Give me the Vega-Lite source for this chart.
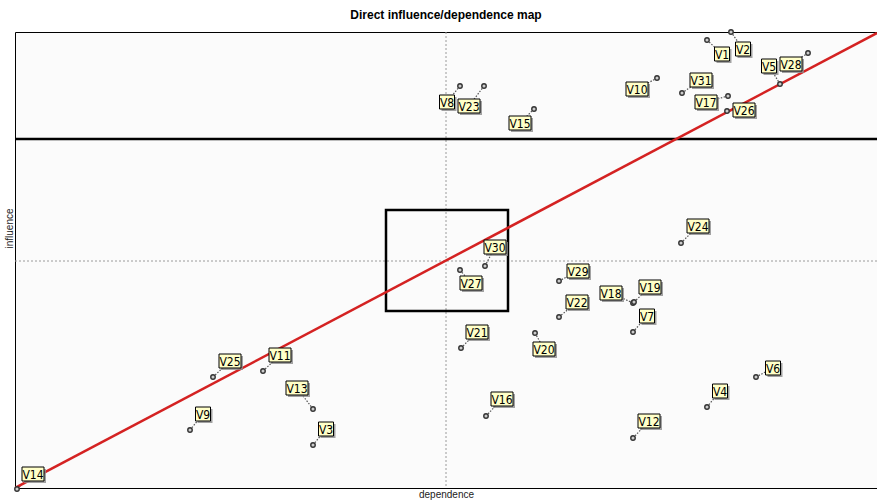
{
  "$schema": "https://vega.github.io/schema/vega-lite/v6.json",
  "width": 862,
  "height": 456,
  "autosize": "none",
  "padding": {"left": 15, "top": 32, "right": 0, "bottom": 14},
  "background": "#ffffff",
  "title": {"text": "Direct influence/dependence map", "fontSize": 12, "font": "Liberation Sans", "fontWeight": "bold", "color": "#000000", "anchor": "middle", "offset": 5},
  "config": {
    "view": {"stroke": "#000000", "strokeWidth": 1, "fill": "#fbfbfb"},
    "axis": {"domain": false, "ticks": false, "labels": false, "grid": false, "titleFontSize": 10, "titleFontWeight": "normal", "titleColor": "#222222", "titleFont": "Liberation Sans", "titlePadding": 1},
    "axisY": {"titleY": 196}
  },
  "datasets": {
    "vars": [
      {"v": "V1", "dep": 692, "inf": 448, "lx": 707, "ly": 434},
      {"v": "V2", "dep": 716, "inf": 456, "lx": 728, "ly": 439},
      {"v": "V3", "dep": 298, "inf": 43, "lx": 311, "ly": 59},
      {"v": "V4", "dep": 692, "inf": 81, "lx": 705, "ly": 97},
      {"v": "V5", "dep": 765, "inf": 404, "lx": 754, "ly": 422},
      {"v": "V6", "dep": 741, "inf": 111, "lx": 758, "ly": 120},
      {"v": "V7", "dep": 618, "inf": 156, "lx": 632, "ly": 172},
      {"v": "V8", "dep": 445, "inf": 402, "lx": 432, "ly": 386},
      {"v": "V9", "dep": 175, "inf": 58, "lx": 188, "ly": 74},
      {"v": "V10", "dep": 642, "inf": 410, "lx": 622, "ly": 399},
      {"v": "V11", "dep": 248, "inf": 117, "lx": 265, "ly": 133},
      {"v": "V12", "dep": 618, "inf": 50, "lx": 634, "ly": 67},
      {"v": "V13", "dep": 298, "inf": 79, "lx": 282, "ly": 100},
      {"v": "V14", "dep": 2, "inf": -1, "lx": 18, "ly": 14},
      {"v": "V15", "dep": 519, "inf": 379, "lx": 505, "ly": 365},
      {"v": "V16", "dep": 471, "inf": 72, "lx": 487, "ly": 89},
      {"v": "V17", "dep": 713, "inf": 392, "lx": 691, "ly": 386},
      {"v": "V18", "dep": 618, "inf": 185, "lx": 596, "ly": 195},
      {"v": "V19", "dep": 619, "inf": 186, "lx": 635, "ly": 201},
      {"v": "V20", "dep": 520, "inf": 155, "lx": 529, "ly": 139},
      {"v": "V21", "dep": 446, "inf": 140, "lx": 462, "ly": 156},
      {"v": "V22", "dep": 544, "inf": 171, "lx": 562, "ly": 186},
      {"v": "V23", "dep": 469, "inf": 402, "lx": 454, "ly": 382},
      {"v": "V24", "dep": 666, "inf": 245, "lx": 683, "ly": 262},
      {"v": "V25", "dep": 198, "inf": 111, "lx": 215, "ly": 127},
      {"v": "V26", "dep": 712, "inf": 377, "lx": 729, "ly": 378},
      {"v": "V27", "dep": 445, "inf": 218, "lx": 456, "ly": 205},
      {"v": "V28", "dep": 793, "inf": 435, "lx": 776, "ly": 424},
      {"v": "V29", "dep": 544, "inf": 207, "lx": 563, "ly": 217},
      {"v": "V30", "dep": 470, "inf": 222, "lx": 480, "ly": 241},
      {"v": "V31", "dep": 667, "inf": 395, "lx": 686, "ly": 408}
    ]
  },
  "layer": [
    {
      "data": {"values": [{"d": 431}]},
      "mark": {"type": "rule", "color": "#9a9a9a", "strokeDash": [2, 2], "strokeWidth": 1},
      "encoding": {
        "x": {"field": "d", "type": "quantitative", "title": "dependence", "scale": {"domain": [0, 862], "nice": false, "zero": false}}
      }
    },
    {
      "data": {"values": [{"i": 227}]},
      "mark": {"type": "rule", "color": "#9a9a9a", "strokeDash": [2, 2], "strokeWidth": 1},
      "encoding": {
        "y": {"field": "i", "type": "quantitative", "title": "influence", "scale": {"domain": [0, 456], "nice": false, "zero": false}}
      }
    },
    {
      "data": {"values": [{"i": 349}]},
      "mark": {"type": "rule", "color": "#000000", "strokeWidth": 2.5},
      "encoding": {
        "y": {"field": "i", "type": "quantitative", "title": "influence"}
      }
    },
    {
      "data": {"values": [{"xa": 371, "xb": 493, "ya": 177, "yb": 278}]},
      "mark": {"type": "rect", "fillOpacity": 0, "stroke": "#000000", "strokeWidth": 2.5},
      "encoding": {
        "x": {"field": "xa", "type": "quantitative", "title": "dependence"},
        "x2": {"field": "xb"},
        "y": {"field": "ya", "type": "quantitative", "title": "influence"},
        "y2": {"field": "yb"}
      }
    },
    {
      "data": {"name": "vars"},
      "mark": {"type": "rule", "color": "#555555", "strokeDash": [1.5, 1.5], "strokeWidth": 1.2},
      "encoding": {
        "x": {"field": "dep", "type": "quantitative", "title": "dependence"},
        "y": {"field": "inf", "type": "quantitative", "title": "influence"},
        "x2": {"field": "lx"},
        "y2": {"field": "ly"}
      }
    },
    {
      "data": {"values": [{"xa": 0, "ya": 0, "xb": 862, "yb": 455}]},
      "mark": {"type": "rule", "color": "#d42222", "strokeWidth": 2.5, "clip": true},
      "encoding": {
        "x": {"field": "xa", "type": "quantitative", "title": "dependence"},
        "y": {"field": "ya", "type": "quantitative", "title": "influence"},
        "x2": {"field": "xb"},
        "y2": {"field": "yb"}
      }
    },
    {
      "data": {"name": "vars"},
      "mark": {"type": "point", "shape": "circle", "size": 20, "filled": false, "fill": "#cccccc", "stroke": "#333333", "strokeWidth": 1.4, "opacity": 1},
      "encoding": {
        "x": {"field": "dep", "type": "quantitative", "title": "dependence"},
        "y": {"field": "inf", "type": "quantitative", "title": "influence"}
      }
    },
    {
      "data": {"name": "vars"},
      "transform": [{"filter": "length(datum.v) < 3"}],
      "mark": {"type": "point", "shape": "M-1.5,-1.4H1.5V1.4H-1.5Z", "size": 100, "filled": true, "color": "#8c8c8c", "opacity": 0.8, "strokeWidth": 0, "xOffset": 2, "yOffset": 2},
      "encoding": {
        "x": {"field": "lx", "type": "quantitative", "title": "dependence"},
        "y": {"field": "ly", "type": "quantitative", "title": "influence"}
      }
    },
    {
      "data": {"name": "vars"},
      "transform": [{"filter": "length(datum.v) >= 3"}],
      "mark": {"type": "point", "shape": "M-2.2,-1.4H2.2V1.4H-2.2Z", "size": 100, "filled": true, "color": "#8c8c8c", "opacity": 0.8, "strokeWidth": 0, "xOffset": 2, "yOffset": 2},
      "encoding": {
        "x": {"field": "lx", "type": "quantitative", "title": "dependence"},
        "y": {"field": "ly", "type": "quantitative", "title": "influence"}
      }
    },
    {
      "data": {"name": "vars"},
      "transform": [{"filter": "length(datum.v) < 3"}],
      "mark": {"type": "point", "shape": "M-1.5,-1.4H1.5V1.4H-1.5Z", "size": 100, "filled": false, "fill": "#ffffc8", "stroke": "#000000", "strokeWidth": 1, "opacity": 1},
      "encoding": {
        "x": {"field": "lx", "type": "quantitative", "title": "dependence"},
        "y": {"field": "ly", "type": "quantitative", "title": "influence"}
      }
    },
    {
      "data": {"name": "vars"},
      "transform": [{"filter": "length(datum.v) >= 3"}],
      "mark": {"type": "point", "shape": "M-2.2,-1.4H2.2V1.4H-2.2Z", "size": 100, "filled": false, "fill": "#ffffc8", "stroke": "#000000", "strokeWidth": 1, "opacity": 1},
      "encoding": {
        "x": {"field": "lx", "type": "quantitative", "title": "dependence"},
        "y": {"field": "ly", "type": "quantitative", "title": "influence"}
      }
    },
    {
      "data": {"name": "vars"},
      "mark": {"type": "text", "font": "Liberation Sans Narrow, DejaVu Sans Condensed, sans-serif", "fontSize": 12, "color": "#000000", "align": "center", "baseline": "middle", "dy": 0.5},
      "encoding": {
        "x": {"field": "lx", "type": "quantitative", "title": "dependence"},
        "y": {"field": "ly", "type": "quantitative", "title": "influence"},
        "text": {"field": "v"}
      }
    }
  ]
}
